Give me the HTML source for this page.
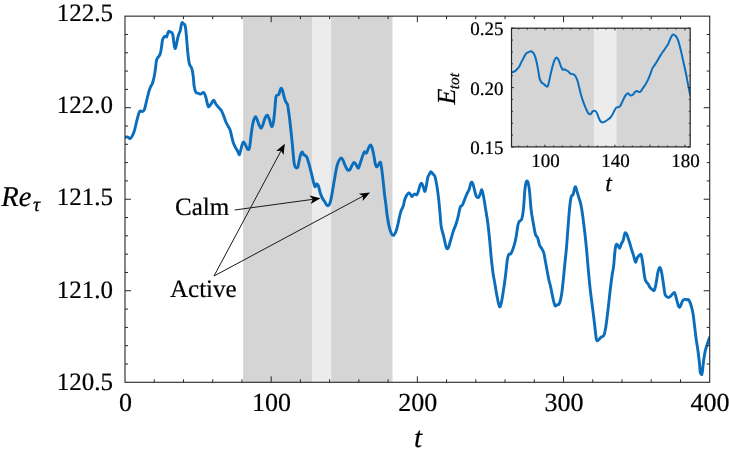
<!DOCTYPE html>
<html><head><meta charset="utf-8"><style>
html,body{margin:0;padding:0;background:#fff;}
body{width:729px;height:455px;overflow:hidden;font-family:"Liberation Serif",serif;}
svg{display:block;}
text{text-rendering:geometricPrecision;stroke:#000;stroke-width:0.22px;}
.wrap{will-change:transform;width:729px;height:455px;}
</style></head><body>
<div class="wrap"><svg width="729" height="455" viewBox="0 0 729 455">
<defs><clipPath id="clipM"><rect x="125.00" y="16.15" width="584.70" height="366.15"/></clipPath><clipPath id="clipI"><rect x="511.50" y="28.20" width="178.70" height="118.70"/></clipPath></defs>
<rect x="243.11" y="16.15" width="68.99" height="366.15" fill="#d5d5d5"/>
<rect x="312.10" y="16.15" width="19.00" height="366.15" fill="#ececec"/>
<rect x="331.11" y="16.15" width="61.39" height="366.15" fill="#d5d5d5"/>
<path d="M125.00,137.20 C125.42,137.15 126.65,136.65 127.50,136.90 C128.35,137.15 129.30,138.88 130.10,138.70 C130.90,138.52 131.57,137.20 132.30,135.80 C133.03,134.40 133.73,132.87 134.50,130.30 C135.27,127.73 136.05,123.52 136.90,120.40 C137.75,117.28 138.72,113.07 139.60,111.60 C140.48,110.13 141.40,111.95 142.20,111.60 C143.00,111.25 143.67,111.32 144.40,109.50 C145.13,107.68 145.87,103.63 146.60,100.70 C147.33,97.77 148.13,94.22 148.80,91.90 C149.47,89.58 150.02,88.17 150.60,86.80 C151.18,85.43 151.70,85.42 152.30,83.70 C152.90,81.98 153.68,78.95 154.20,76.50 C154.72,74.05 155.02,71.67 155.40,69.00 C155.78,66.33 156.08,62.40 156.50,60.50 C156.92,58.60 157.43,58.40 157.90,57.60 C158.37,56.80 158.87,56.48 159.30,55.70 C159.73,54.92 160.12,54.43 160.50,52.90 C160.88,51.37 161.27,48.65 161.60,46.50 C161.93,44.35 162.12,41.55 162.50,40.00 C162.88,38.45 163.43,37.82 163.90,37.20 C164.37,36.58 164.83,36.37 165.30,36.30 C165.77,36.23 166.28,37.33 166.70,36.80 C167.12,36.27 167.43,34.02 167.80,33.10 C168.17,32.18 168.48,31.48 168.90,31.30 C169.32,31.12 169.82,31.78 170.30,32.00 C170.78,32.22 171.37,32.05 171.80,32.60 C172.23,33.15 172.53,33.47 172.90,35.30 C173.27,37.13 173.63,41.40 174.00,43.60 C174.37,45.80 174.70,48.32 175.10,48.50 C175.50,48.68 175.97,46.43 176.40,44.70 C176.83,42.97 177.30,39.85 177.70,38.10 C178.10,36.35 178.38,35.40 178.80,34.20 C179.22,33.00 179.78,32.45 180.20,30.90 C180.62,29.35 180.98,26.30 181.30,24.90 C181.62,23.50 181.77,22.68 182.10,22.50 C182.43,22.32 182.85,23.47 183.30,23.80 C183.75,24.13 184.40,23.63 184.80,24.50 C185.20,25.37 185.42,26.92 185.70,29.00 C185.98,31.08 186.25,34.17 186.50,37.00 C186.75,39.83 186.95,43.07 187.20,46.00 C187.45,48.93 187.72,52.03 188.00,54.60 C188.28,57.17 188.60,59.67 188.90,61.40 C189.20,63.13 189.42,64.02 189.80,65.00 C190.18,65.98 190.78,66.38 191.20,67.30 C191.62,68.22 191.95,68.88 192.30,70.50 C192.65,72.12 192.98,74.35 193.30,77.00 C193.62,79.65 193.75,83.82 194.20,86.40 C194.65,88.98 195.27,91.33 196.00,92.50 C196.73,93.67 197.80,93.13 198.60,93.40 C199.40,93.67 199.95,94.25 200.80,94.10 C201.65,93.95 202.85,91.95 203.70,92.50 C204.55,93.05 205.17,95.12 205.90,97.40 C206.63,99.68 207.37,104.92 208.10,106.20 C208.83,107.48 209.38,106.10 210.30,105.10 C211.22,104.10 212.68,100.38 213.60,100.20 C214.52,100.02 215.07,102.93 215.80,104.00 C216.53,105.07 217.08,105.52 218.00,106.60 C218.92,107.68 220.38,109.03 221.30,110.50 C222.22,111.97 222.77,113.57 223.50,115.40 C224.23,117.23 224.97,119.75 225.70,121.50 C226.43,123.25 227.17,124.50 227.90,125.90 C228.63,127.30 229.45,128.07 230.10,129.90 C230.75,131.73 231.25,134.70 231.80,136.90 C232.35,139.10 232.78,141.33 233.40,143.10 C234.02,144.87 234.78,146.15 235.50,147.50 C236.22,148.85 237.03,150.03 237.70,151.20 C238.37,152.37 238.82,155.38 239.50,154.50 C240.18,153.62 241.13,148.00 241.80,145.90 C242.47,143.80 242.87,142.03 243.50,141.90 C244.13,141.77 244.87,143.83 245.60,145.10 C246.33,146.37 247.22,149.22 247.90,149.50 C248.58,149.78 249.12,149.60 249.70,146.80 C250.28,144.00 250.82,136.80 251.40,132.70 C251.98,128.60 252.55,124.83 253.20,122.20 C253.85,119.57 254.65,117.33 255.30,116.90 C255.95,116.47 256.48,118.28 257.10,119.60 C257.72,120.92 258.33,123.33 259.00,124.80 C259.67,126.27 260.45,128.40 261.10,128.40 C261.75,128.40 262.23,126.57 262.90,124.80 C263.57,123.03 264.37,119.40 265.10,117.80 C265.83,116.20 266.58,114.90 267.30,115.20 C268.02,115.50 268.68,117.70 269.40,119.60 C270.12,121.50 270.93,126.17 271.60,126.60 C272.27,127.03 272.87,124.98 273.40,122.20 C273.93,119.42 274.37,114.15 274.80,109.90 C275.23,105.65 275.50,99.18 276.00,96.70 C276.50,94.22 277.30,95.43 277.80,95.00 C278.30,94.57 278.50,95.20 279.00,94.10 C279.50,93.00 280.22,89.00 280.80,88.40 C281.38,87.80 281.92,88.97 282.50,90.50 C283.08,92.03 283.70,95.60 284.30,97.60 C284.90,99.60 285.57,101.33 286.10,102.50 C286.63,103.67 287.03,102.78 287.50,104.60 C287.97,106.42 288.38,109.58 288.90,113.40 C289.42,117.22 290.02,122.22 290.60,127.50 C291.18,132.78 291.82,139.20 292.40,145.10 C292.98,151.00 293.58,159.20 294.10,162.90 C294.62,166.60 294.90,166.57 295.50,167.30 C296.10,168.03 297.10,168.33 297.70,167.30 C298.30,166.27 298.63,163.15 299.10,161.10 C299.57,159.05 299.98,156.52 300.50,155.00 C301.02,153.48 301.62,152.00 302.20,152.00 C302.78,152.00 303.42,154.37 304.00,155.00 C304.58,155.63 305.20,155.37 305.70,155.80 C306.20,156.23 306.50,156.42 307.00,157.60 C307.50,158.78 308.03,160.57 308.70,162.90 C309.37,165.23 310.27,168.68 311.00,171.60 C311.73,174.52 312.45,177.90 313.10,180.40 C313.75,182.90 314.32,186.00 314.90,186.60 C315.48,187.20 316.02,184.15 316.60,184.00 C317.18,183.85 317.80,184.25 318.40,185.70 C319.00,187.15 319.55,190.65 320.20,192.70 C320.85,194.75 321.57,196.53 322.30,198.00 C323.03,199.47 323.85,200.32 324.60,201.50 C325.35,202.68 326.07,204.50 326.80,205.10 C327.53,205.70 328.35,205.83 329.00,205.10 C329.65,204.37 330.12,203.05 330.70,200.70 C331.28,198.35 331.85,194.67 332.50,191.00 C333.15,187.33 333.87,182.80 334.60,178.70 C335.33,174.60 336.13,169.48 336.90,166.40 C337.67,163.32 338.47,161.62 339.20,160.20 C339.93,158.78 340.67,157.90 341.30,157.90 C341.93,157.90 342.37,158.93 343.00,160.20 C343.63,161.47 344.38,163.93 345.10,165.50 C345.82,167.07 346.55,168.85 347.30,169.60 C348.05,170.35 348.87,170.60 349.60,170.00 C350.33,169.40 351.00,167.25 351.70,166.00 C352.40,164.75 353.10,162.78 353.80,162.50 C354.50,162.22 355.17,163.33 355.90,164.30 C356.63,165.27 357.53,168.30 358.20,168.30 C358.87,168.30 359.23,166.13 359.90,164.30 C360.57,162.47 361.47,159.35 362.20,157.30 C362.93,155.25 363.58,152.73 364.30,152.00 C365.02,151.27 365.77,153.63 366.50,152.90 C367.23,152.17 368.03,148.93 368.70,147.60 C369.37,146.27 369.90,144.75 370.50,144.90 C371.10,145.05 371.72,146.58 372.30,148.50 C372.88,150.42 373.52,153.92 374.00,156.40 C374.48,158.88 374.77,161.65 375.20,163.40 C375.63,165.15 376.00,166.75 376.60,166.90 C377.20,167.05 378.15,165.03 378.80,164.30 C379.45,163.57 379.98,161.48 380.50,162.50 C381.02,163.52 381.43,167.03 381.90,170.40 C382.37,173.77 382.85,178.58 383.30,182.70 C383.75,186.82 384.18,191.58 384.60,195.10 C385.02,198.62 385.40,200.62 385.80,203.80 C386.20,206.98 386.45,210.42 387.00,214.20 C387.55,217.98 388.37,223.27 389.10,226.50 C389.83,229.73 390.63,232.13 391.40,233.60 C392.17,235.07 392.97,235.60 393.70,235.30 C394.43,235.00 395.15,233.40 395.80,231.80 C396.45,230.20 397.02,228.05 397.60,225.70 C398.18,223.35 398.72,220.20 399.30,217.70 C399.88,215.20 400.45,212.60 401.10,210.70 C401.75,208.80 402.62,208.05 403.20,206.30 C403.78,204.55 404.07,201.95 404.60,200.20 C405.13,198.45 405.75,196.98 406.40,195.80 C407.05,194.62 407.87,193.40 408.50,193.10 C409.13,192.80 409.62,193.42 410.20,194.00 C410.78,194.58 411.32,196.60 412.00,196.60 C412.68,196.60 413.53,194.28 414.30,194.00 C415.07,193.72 415.93,195.33 416.60,194.90 C417.27,194.47 417.72,193.02 418.30,191.40 C418.88,189.78 419.52,186.52 420.10,185.20 C420.68,183.88 421.22,183.05 421.80,183.50 C422.38,183.95 423.07,186.58 423.60,187.90 C424.13,189.22 424.50,192.00 425.00,191.40 C425.50,190.80 426.13,186.65 426.60,184.30 C427.07,181.95 427.30,179.05 427.80,177.30 C428.30,175.55 429.07,174.73 429.60,173.80 C430.13,172.87 430.48,171.70 431.00,171.70 C431.52,171.70 432.05,173.02 432.70,173.80 C433.35,174.58 434.25,174.65 434.90,176.40 C435.55,178.15 436.02,180.93 436.60,184.30 C437.18,187.67 437.87,192.20 438.40,196.60 C438.93,201.00 439.33,205.72 439.80,210.70 C440.27,215.68 440.58,222.37 441.20,226.50 C441.82,230.63 442.78,232.50 443.50,235.50 C444.22,238.50 444.95,242.33 445.50,244.50 C446.05,246.67 446.30,248.00 446.80,248.50 C447.30,249.00 447.85,248.92 448.50,247.50 C449.15,246.08 449.85,242.87 450.70,240.00 C451.55,237.13 452.75,232.83 453.60,230.30 C454.45,227.77 455.07,227.00 455.80,224.80 C456.53,222.60 457.27,220.02 458.00,217.10 C458.73,214.18 459.47,209.30 460.20,207.30 C460.93,205.30 461.67,206.38 462.40,205.10 C463.13,203.82 463.87,201.43 464.60,199.60 C465.33,197.77 466.07,195.75 466.80,194.10 C467.53,192.45 468.27,191.65 469.00,189.70 C469.73,187.75 470.53,183.32 471.20,182.40 C471.87,181.48 472.42,182.80 473.00,184.20 C473.58,185.60 474.15,188.78 474.70,190.80 C475.25,192.82 475.67,195.20 476.30,196.30 C476.93,197.40 477.85,197.77 478.50,197.40 C479.15,197.03 479.65,195.38 480.20,194.10 C480.75,192.82 481.25,189.33 481.80,189.70 C482.35,190.07 482.85,193.00 483.50,196.30 C484.15,199.60 484.97,204.93 485.70,209.50 C486.43,214.07 487.23,218.53 487.90,223.70 C488.57,228.87 489.17,235.05 489.70,240.50 C490.23,245.95 490.57,251.12 491.10,256.40 C491.63,261.68 492.25,267.52 492.90,272.20 C493.55,276.88 494.27,280.25 495.00,284.50 C495.73,288.75 496.55,294.03 497.30,297.70 C498.05,301.37 498.83,305.62 499.50,306.50 C500.17,307.38 500.65,305.63 501.30,303.00 C501.95,300.37 502.70,295.25 503.40,290.70 C504.10,286.15 504.85,280.83 505.50,275.70 C506.15,270.57 506.77,263.42 507.30,259.90 C507.83,256.38 508.12,255.63 508.70,254.60 C509.28,253.57 510.17,254.43 510.80,253.70 C511.43,252.97 511.92,251.67 512.50,250.20 C513.08,248.73 513.70,247.10 514.30,244.90 C514.90,242.70 515.48,240.35 516.10,237.00 C516.72,233.65 517.42,227.45 518.00,224.80 C518.58,222.15 518.97,222.08 519.60,221.10 C520.23,220.12 521.15,221.02 521.80,218.90 C522.45,216.78 523.00,213.08 523.50,208.40 C524.00,203.72 524.35,195.20 524.80,190.80 C525.25,186.40 525.68,183.47 526.20,182.00 C526.72,180.53 527.35,180.53 527.90,182.00 C528.45,183.47 528.95,186.05 529.50,190.80 C530.05,195.55 530.55,205.02 531.20,210.50 C531.85,215.98 532.68,219.70 533.40,223.70 C534.12,227.70 534.78,232.13 535.50,234.50 C536.22,236.87 537.03,236.17 537.70,237.90 C538.37,239.63 538.83,243.13 539.50,244.90 C540.17,246.67 540.98,247.17 541.70,248.50 C542.42,249.83 543.15,250.57 543.80,252.90 C544.45,255.23 545.00,259.28 545.60,262.50 C546.20,265.72 546.82,269.12 547.40,272.20 C547.98,275.28 548.58,278.67 549.10,281.00 C549.62,283.33 549.90,283.52 550.50,286.20 C551.10,288.88 551.97,293.88 552.70,297.10 C553.43,300.32 554.17,304.22 554.90,305.50 C555.63,306.78 556.37,305.10 557.10,304.80 C557.83,304.50 558.57,305.35 559.30,303.70 C560.03,302.05 560.87,298.55 561.50,294.90 C562.13,291.25 562.58,286.55 563.10,281.80 C563.62,277.05 564.05,271.90 564.60,266.40 C565.15,260.90 565.95,253.73 566.40,248.80 C566.85,243.87 566.95,241.43 567.30,236.80 C567.65,232.17 568.07,226.27 568.50,221.00 C568.93,215.73 569.43,209.30 569.90,205.20 C570.37,201.10 570.77,198.17 571.30,196.40 C571.83,194.63 572.60,195.78 573.10,194.60 C573.60,193.42 573.90,190.62 574.30,189.30 C574.70,187.98 575.07,186.40 575.50,186.70 C575.93,187.00 576.32,189.20 576.90,191.10 C577.48,193.00 578.35,195.90 579.00,198.10 C579.65,200.30 580.27,201.95 580.80,204.30 C581.33,206.65 581.73,209.13 582.20,212.20 C582.67,215.27 583.08,218.57 583.60,222.70 C584.12,226.83 584.80,232.45 585.30,237.00 C585.80,241.55 586.08,244.37 586.60,250.00 C587.12,255.63 587.82,264.40 588.40,270.80 C588.98,277.20 589.45,282.55 590.10,288.40 C590.75,294.25 591.57,300.05 592.30,305.90 C593.03,311.75 593.82,317.95 594.50,323.50 C595.18,329.05 595.78,336.42 596.40,339.20 C597.02,341.98 597.42,340.53 598.20,340.20 C598.98,339.87 600.18,337.97 601.10,337.20 C602.02,336.43 602.97,336.97 603.70,335.60 C604.43,334.23 604.83,332.85 605.50,329.00 C606.17,325.15 606.97,318.55 607.70,312.50 C608.43,306.45 609.17,298.92 609.90,292.70 C610.63,286.48 611.48,279.58 612.10,275.20 C612.72,270.82 613.13,270.33 613.60,266.40 C614.07,262.47 614.47,255.23 614.90,251.60 C615.33,247.97 615.70,245.62 616.20,244.60 C616.70,243.58 617.32,244.92 617.90,245.50 C618.48,246.08 619.12,248.40 619.70,248.10 C620.28,247.80 620.82,245.02 621.40,243.70 C621.98,242.38 622.62,241.95 623.20,240.20 C623.78,238.45 624.32,234.22 624.90,233.20 C625.48,232.18 626.10,233.08 626.70,234.10 C627.30,235.12 627.92,237.55 628.50,239.30 C629.08,241.05 629.62,242.68 630.20,244.60 C630.78,246.52 631.42,248.90 632.00,250.80 C632.58,252.70 633.12,254.10 633.70,256.00 C634.28,257.90 634.90,261.90 635.50,262.20 C636.10,262.50 636.63,258.97 637.30,257.80 C637.97,256.63 638.83,255.63 639.50,255.20 C640.17,254.77 640.70,253.45 641.30,255.20 C641.90,256.95 642.52,261.90 643.10,265.70 C643.68,269.50 644.22,275.22 644.80,278.00 C645.38,280.78 646.02,281.37 646.60,282.40 C647.18,283.43 647.72,283.32 648.30,284.20 C648.88,285.08 649.45,286.82 650.10,287.70 C650.75,288.58 651.50,289.07 652.20,289.50 C652.90,289.93 653.65,291.33 654.30,290.30 C654.95,289.27 655.52,286.23 656.10,283.30 C656.68,280.37 657.22,275.33 657.80,272.70 C658.38,270.07 659.02,267.78 659.60,267.50 C660.18,267.22 660.72,268.67 661.30,271.00 C661.88,273.33 662.50,277.70 663.10,281.50 C663.70,285.30 664.32,291.30 664.90,293.80 C665.48,296.30 665.93,295.90 666.60,296.50 C667.27,297.10 668.13,297.55 668.90,297.40 C669.67,297.25 670.28,296.43 671.20,295.60 C672.12,294.77 673.53,291.88 674.40,292.40 C675.27,292.92 675.70,296.37 676.40,298.70 C677.10,301.03 677.95,305.12 678.60,306.40 C679.25,307.68 679.65,307.32 680.30,306.40 C680.95,305.48 681.77,302.08 682.50,300.90 C683.23,299.72 683.97,299.48 684.70,299.30 C685.43,299.12 686.27,299.72 686.90,299.80 C687.53,299.88 687.87,299.07 688.50,299.80 C689.13,300.53 689.97,302.00 690.70,304.20 C691.43,306.40 692.25,309.33 692.90,313.00 C693.55,316.67 694.05,321.82 694.60,326.20 C695.15,330.58 695.65,335.28 696.20,339.30 C696.75,343.32 697.35,346.27 697.90,350.30 C698.45,354.33 699.12,359.88 699.50,363.50 C699.88,367.12 699.93,370.22 700.20,372.00 C700.47,373.78 700.77,374.07 701.10,374.20 C701.43,374.33 701.75,375.32 702.20,372.80 C702.65,370.28 703.27,362.85 703.80,359.10 C704.33,355.35 704.85,352.68 705.40,350.30 C705.95,347.92 706.52,346.63 707.10,344.80 C707.68,342.97 708.48,340.52 708.90,339.30 C709.32,338.08 709.48,337.80 709.60,337.50" fill="none" stroke="#0a6ebd" stroke-width="2.9" stroke-linejoin="round" stroke-linecap="round" clip-path="url(#clipM)"/>
<path d="M154.24,382.30V379.30M154.24,16.15V19.15M183.47,382.30V379.30M183.47,16.15V19.15M212.70,382.30V379.30M212.70,16.15V19.15M241.94,382.30V379.30M241.94,16.15V19.15M271.18,382.30V376.30M271.18,16.15V22.15M300.41,382.30V379.30M300.41,16.15V19.15M329.64,382.30V379.30M329.64,16.15V19.15M358.88,382.30V379.30M358.88,16.15V19.15M388.12,382.30V379.30M388.12,16.15V19.15M417.35,382.30V376.30M417.35,16.15V22.15M446.59,382.30V379.30M446.59,16.15V19.15M475.82,382.30V379.30M475.82,16.15V19.15M505.06,382.30V379.30M505.06,16.15V19.15M534.29,382.30V379.30M534.29,16.15V19.15M563.52,382.30V376.30M563.52,16.15V22.15M592.76,382.30V379.30M592.76,16.15V19.15M622.00,382.30V379.30M622.00,16.15V19.15M651.23,382.30V379.30M651.23,16.15V19.15M680.47,382.30V379.30M680.47,16.15V19.15M125.00,363.99H128.00M709.70,363.99H706.70M125.00,345.68H128.00M709.70,345.68H706.70M125.00,327.38H128.00M709.70,327.38H706.70M125.00,309.07H128.00M709.70,309.07H706.70M125.00,290.76H131.00M709.70,290.76H703.70M125.00,272.46H128.00M709.70,272.46H706.70M125.00,254.15H128.00M709.70,254.15H706.70M125.00,235.84H128.00M709.70,235.84H706.70M125.00,217.53H128.00M709.70,217.53H706.70M125.00,199.22H131.00M709.70,199.22H703.70M125.00,180.92H128.00M709.70,180.92H706.70M125.00,162.61H128.00M709.70,162.61H706.70M125.00,144.30H128.00M709.70,144.30H706.70M125.00,125.99H128.00M709.70,125.99H706.70M125.00,107.69H131.00M709.70,107.69H703.70M125.00,89.38H128.00M709.70,89.38H706.70M125.00,71.07H128.00M709.70,71.07H706.70M125.00,52.77H128.00M709.70,52.77H706.70M125.00,34.46H128.00M709.70,34.46H706.70" stroke="#262626" stroke-width="1" fill="none"/>
<rect x="125.00" y="16.15" width="584.70" height="366.15" fill="none" stroke="#262626" stroke-width="1.1"/>
<g font-family="Liberation Serif" font-size="25" fill="#000"><text x="125.40" y="410.6" text-anchor="middle" font-size="26">0</text><text x="271.57" y="410.6" text-anchor="middle" font-size="26">100</text><text x="417.75" y="410.6" text-anchor="middle" font-size="26">200</text><text x="563.92" y="410.6" text-anchor="middle" font-size="26">300</text><text x="710.10" y="410.6" text-anchor="middle" font-size="26">400</text><text x="113" y="20.60" text-anchor="end">122.5</text><text x="113" y="112.90" text-anchor="end">122.0</text><text x="113" y="205.20" text-anchor="end">121.5</text><text x="113" y="297.50" text-anchor="end">121.0</text><text x="113" y="389.80" text-anchor="end">120.5</text></g>
<text x="418" y="446.5" font-family="Liberation Serif" font-style="italic" font-size="29" text-anchor="middle">t</text>
<text x="1.2" y="206" font-family="Liberation Serif" font-style="italic" font-size="28.6">Re<tspan font-size="20" dx="1.6" dy="4.8">τ</tspan></text>
<g font-family="Liberation Serif" font-size="25" fill="#000"><text x="175" y="215.2">Calm</text><text x="170" y="296.8">Active</text></g>
<path d="M214.00,276.00L281.08,150.74" stroke="#1a1a1a" stroke-width="1.0"/><path d="M284.80,143.80L283.55,155.04L281.08,150.74L276.14,151.07Z" fill="#000"/>
<path d="M234.70,210.00L312.70,199.36" stroke="#1a1a1a" stroke-width="1.0"/><path d="M320.50,198.30L310.66,203.88L312.70,199.36L309.53,195.56Z" fill="#000"/>
<path d="M214.00,276.00L363.06,196.12" stroke="#1a1a1a" stroke-width="1.0"/><path d="M370.00,192.40L362.73,201.06L363.06,196.12L358.76,193.66Z" fill="#000"/>
<rect x="511.50" y="28.20" width="178.70" height="118.70" fill="#d5d5d5"/>
<rect x="593.90" y="28.20" width="22.75" height="118.70" fill="#ececec"/>
<path d="M511.50,72.50 C511.92,72.35 513.15,72.07 514.00,71.60 C514.85,71.13 515.77,70.47 516.60,69.70 C517.43,68.93 518.23,68.22 519.00,67.00 C519.77,65.78 520.45,63.87 521.20,62.40 C521.95,60.93 522.73,59.63 523.50,58.20 C524.27,56.77 524.97,54.82 525.80,53.80 C526.63,52.78 527.62,52.53 528.50,52.10 C529.38,51.67 530.27,51.02 531.10,51.20 C531.93,51.38 532.80,52.22 533.50,53.20 C534.20,54.18 534.72,55.35 535.30,57.10 C535.88,58.85 536.48,61.28 537.00,63.70 C537.52,66.12 537.95,69.07 538.40,71.60 C538.85,74.13 539.17,77.08 539.70,78.90 C540.23,80.72 540.88,81.62 541.60,82.50 C542.32,83.38 543.28,83.63 544.00,84.20 C544.72,84.77 545.30,85.53 545.90,85.90 C546.50,86.27 547.10,87.02 547.60,86.40 C548.10,85.78 548.40,84.22 548.90,82.20 C549.40,80.18 550.00,76.93 550.60,74.30 C551.20,71.67 551.83,68.82 552.50,66.40 C553.17,63.98 553.95,61.30 554.60,59.80 C555.25,58.30 555.82,57.52 556.40,57.40 C556.98,57.28 557.58,58.27 558.10,59.10 C558.62,59.93 558.98,61.08 559.50,62.40 C560.02,63.72 560.65,65.78 561.20,67.00 C561.75,68.22 562.28,69.32 562.80,69.70 C563.32,70.08 563.77,69.23 564.30,69.30 C564.83,69.37 565.42,69.82 566.00,70.10 C566.58,70.38 567.08,70.42 567.80,71.00 C568.52,71.58 569.45,73.07 570.30,73.60 C571.15,74.13 572.03,73.77 572.90,74.20 C573.77,74.63 574.73,75.10 575.50,76.20 C576.27,77.30 576.88,78.93 577.50,80.80 C578.12,82.67 578.65,85.20 579.20,87.40 C579.75,89.60 580.20,91.80 580.80,94.00 C581.40,96.20 582.13,98.62 582.80,100.60 C583.47,102.58 584.13,104.25 584.80,105.90 C585.47,107.55 586.15,109.18 586.80,110.50 C587.45,111.82 588.05,113.20 588.70,113.80 C589.35,114.40 590.03,114.50 590.70,114.10 C591.37,113.70 591.97,111.93 592.70,111.40 C593.43,110.87 594.45,110.72 595.10,110.90 C595.75,111.08 596.08,111.58 596.60,112.50 C597.12,113.42 597.65,115.08 598.20,116.40 C598.75,117.72 599.28,119.40 599.90,120.40 C600.52,121.40 601.23,122.13 601.90,122.40 C602.57,122.67 603.23,122.23 603.90,122.00 C604.57,121.77 605.17,121.45 605.90,121.00 C606.63,120.55 607.53,119.88 608.30,119.30 C609.07,118.72 609.80,118.30 610.50,117.50 C611.20,116.70 611.83,115.67 612.50,114.50 C613.17,113.33 613.85,111.67 614.50,110.50 C615.15,109.33 615.68,108.05 616.40,107.50 C617.12,106.95 618.08,107.58 618.80,107.20 C619.52,106.82 619.98,106.40 620.70,105.20 C621.42,104.00 622.30,101.65 623.10,100.00 C623.90,98.35 624.70,96.43 625.50,95.30 C626.30,94.17 627.10,93.20 627.90,93.20 C628.70,93.20 629.50,95.03 630.30,95.30 C631.10,95.57 631.92,95.33 632.70,94.80 C633.48,94.27 634.27,92.73 635.00,92.10 C635.73,91.47 636.43,91.00 637.10,91.00 C637.77,91.00 638.37,92.05 639.00,92.10 C639.63,92.15 640.25,91.97 640.90,91.30 C641.55,90.63 642.17,89.20 642.90,88.10 C643.63,87.00 644.42,86.15 645.30,84.70 C646.18,83.25 647.35,81.20 648.20,79.40 C649.05,77.60 649.70,75.73 650.40,73.90 C651.10,72.07 651.62,69.98 652.40,68.40 C653.18,66.82 654.17,65.85 655.10,64.40 C656.03,62.95 657.05,61.28 658.00,59.70 C658.95,58.12 659.88,56.37 660.80,54.90 C661.72,53.43 662.60,52.22 663.50,50.90 C664.40,49.58 665.40,48.18 666.20,47.00 C667.00,45.82 667.70,44.98 668.30,43.80 C668.90,42.62 669.20,41.27 669.80,39.90 C670.40,38.53 671.23,36.48 671.90,35.60 C672.57,34.72 673.08,34.42 673.80,34.60 C674.52,34.78 675.47,35.68 676.20,36.70 C676.93,37.72 677.60,39.12 678.20,40.70 C678.80,42.28 679.22,43.97 679.80,46.20 C680.38,48.43 681.07,51.33 681.70,54.10 C682.33,56.87 682.93,59.77 683.60,62.80 C684.27,65.83 685.02,69.00 685.70,72.30 C686.38,75.60 687.05,79.27 687.70,82.60 C688.35,85.93 689.18,90.15 689.60,92.30 C690.02,94.45 690.10,94.97 690.20,95.50" fill="none" stroke="#0a6ebd" stroke-width="2" stroke-linejoin="round" clip-path="url(#clipI)"/>
<path d="M518.65,146.90V145.50M518.65,28.20V29.60M527.40,146.90V145.50M527.40,28.20V29.60M536.15,146.90V145.50M536.15,28.20V29.60M544.90,146.90V144.70M544.90,28.20V30.40M553.65,146.90V145.50M553.65,28.20V29.60M562.40,146.90V145.50M562.40,28.20V29.60M571.15,146.90V145.50M571.15,28.20V29.60M579.90,146.90V144.70M579.90,28.20V30.40M588.65,146.90V145.50M588.65,28.20V29.60M597.40,146.90V145.50M597.40,28.20V29.60M606.15,146.90V145.50M606.15,28.20V29.60M614.90,146.90V144.70M614.90,28.20V30.40M623.65,146.90V145.50M623.65,28.20V29.60M632.40,146.90V145.50M632.40,28.20V29.60M641.15,146.90V145.50M641.15,28.20V29.60M649.90,146.90V144.70M649.90,28.20V30.40M658.65,146.90V145.50M658.65,28.20V29.60M667.40,146.90V145.50M667.40,28.20V29.60M676.15,146.90V145.50M676.15,28.20V29.60M684.90,146.90V144.70M684.90,28.20V30.40M511.50,147.00H513.90M690.20,147.00H687.80M511.50,135.12H512.90M690.20,135.12H688.80M511.50,123.24H512.90M690.20,123.24H688.80M511.50,111.36H512.90M690.20,111.36H688.80M511.50,99.48H512.90M690.20,99.48H688.80M511.50,87.60H513.90M690.20,87.60H687.80M511.50,75.72H512.90M690.20,75.72H688.80M511.50,63.84H512.90M690.20,63.84H688.80M511.50,51.96H512.90M690.20,51.96H688.80M511.50,40.08H512.90M690.20,40.08H688.80M511.50,28.20H513.90M690.20,28.20H687.80" stroke="#262626" stroke-width="1" fill="none"/>
<rect x="511.50" y="28.20" width="178.70" height="118.70" fill="none" stroke="#262626" stroke-width="1.2"/>
<g font-family="Liberation Serif" font-size="19" fill="#000"><text x="545.40" y="166.8" text-anchor="middle">100</text><text x="615.40" y="166.8" text-anchor="middle">140</text><text x="685.40" y="166.8" text-anchor="middle">180</text><text x="503.5" y="35.20" text-anchor="end">0.25</text><text x="503.5" y="94.60" text-anchor="end">0.20</text><text x="503.5" y="154.00" text-anchor="end">0.15</text></g>
<text x="608.6" y="190.9" font-family="Liberation Serif" font-style="italic" font-size="24" text-anchor="middle">t</text>
<text transform="translate(455.2,104.5) rotate(-90)" font-family="Liberation Serif" font-style="italic" font-size="26">E<tspan font-size="15.5" dx="-0.7" dy="3.4">tot</tspan></text>
</svg></div>
</body></html>
